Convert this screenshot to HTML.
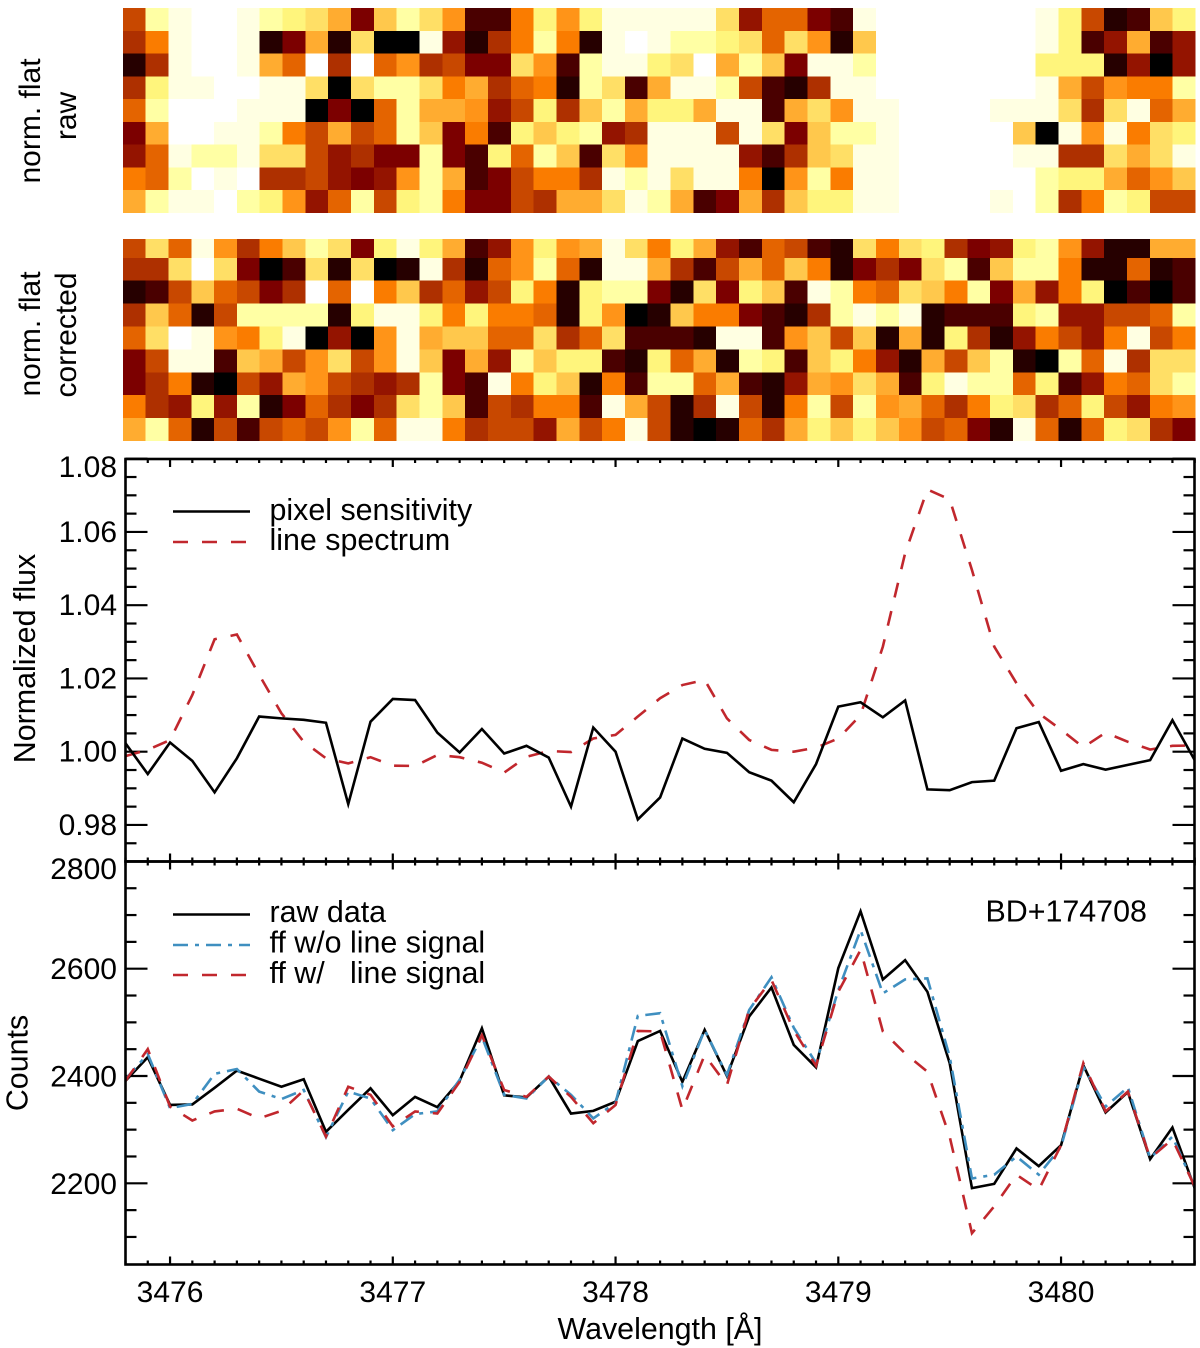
<!DOCTYPE html>
<html lang="en">
<head>
<meta charset="utf-8">
<title>Flat-field and spectrum comparison</title>
<style>
html,body{margin:0;padding:0;background:#fff;}
svg{display:block;}
text{font-family:"Liberation Sans",Arial,sans-serif;font-size:30px;fill:#000;white-space:pre;}
text.big{font-size:30.4px;}
</style>
</head>
<body>
<svg id="figure" xmlns="http://www.w3.org/2000/svg" width="1200" height="1348" viewBox="0 0 1200 1348">
<defs>
<clipPath id="clip-flux"><rect x="125.5" y="459" width="1069" height="402.5"/></clipPath>
<clipPath id="clip-counts"><rect x="125.5" y="861.5" width="1069" height="403"/></clipPath>
<clipPath id="clip-raw"><rect x="122.8" y="8" width="1072.7" height="205"/></clipPath>
<clipPath id="clip-cor"><rect x="122.8" y="239" width="1072.7" height="202"/></clipPath>
</defs>
<g id="heat-raw" clip-path="url(#clip-raw)" shape-rendering="crispEdges"></g>
<g id="heat-cor" clip-path="url(#clip-cor)" shape-rendering="crispEdges"></g>
<text transform="translate(40,121) rotate(-90)" text-anchor="middle">norm. flat</text>
<text transform="translate(76,116) rotate(-90)" text-anchor="middle">raw</text>
<text transform="translate(40,334) rotate(-90)" text-anchor="middle">norm. flat</text>
<text transform="translate(76,335) rotate(-90)" text-anchor="middle">corrected</text>

<g id="ticks" stroke="#000" stroke-width="2.2"></g>
<g id="labels"></g>
<g id="lines-flux" clip-path="url(#clip-flux)" fill="none" stroke-width="2.6" stroke-linejoin="miter"></g>
<g id="lines-counts" clip-path="url(#clip-counts)" fill="none" stroke-width="2.6" stroke-linejoin="miter"></g>
<rect x="125.5" y="459" width="1069" height="402.5" fill="none" stroke="#000" stroke-width="2.6"/>
<rect x="125.5" y="861.5" width="1069" height="403" fill="none" stroke="#000" stroke-width="2.6"/>

<text class="big" transform="translate(35,658.5) rotate(-90)" text-anchor="middle">Normalized flux</text>
<text class="big" transform="translate(27.5,1063) rotate(-90)" text-anchor="middle">Counts</text>
<text class="big" x="660" y="1339" text-anchor="middle">Wavelength [Å]</text>

<g>
<line x1="173" x2="250" y1="511.5" y2="511.5" stroke="#000" stroke-width="2.6"/>
<line x1="173" x2="250" y1="542" y2="542" stroke="#c1272d" stroke-width="2.6" stroke-dasharray="15 14"/>
<text class="big" x="269.5" y="520">pixel sensitivity</text>
<text class="big" x="269.5" y="550">line spectrum</text>
</g>
<g>
<line x1="173" x2="250" y1="914.5" y2="914.5" stroke="#000" stroke-width="2.6"/>
<line x1="173" x2="250" y1="945" y2="945" stroke="#3f8fc0" stroke-width="2.6" stroke-dasharray="15 7 4 7"/>
<line x1="173" x2="250" y1="975" y2="975" stroke="#c1272d" stroke-width="2.6" stroke-dasharray="15 14"/>
<text class="big" x="269.5" y="922">raw data</text>
<text class="big" x="269.5" y="952.5">ff w/o line signal</text>
<text class="big" x="269.5" y="983" xml:space="preserve">ff w/   line signal</text>
<text class="big" x="985.5" y="921.5">BD+174708</text>
</g>
</svg>
<script>
var wavelengths = [3475.8,3475.9,
3476.0,3476.1,3476.2,3476.3,3476.4,3476.5,3476.6,3476.7,3476.8,3476.9,
3477.0,3477.1,3477.2,3477.3,3477.4,3477.5,3477.6,3477.7,3477.8,3477.9,
3478.0,3478.1,3478.2,3478.3,3478.4,3478.5,3478.6,3478.7,3478.8,3478.9,
3479.0,3479.1,3479.2,3479.3,3479.4,3479.5,3479.6,3479.7,3479.8,3479.9,
3480.0,3480.1,3480.2,3480.3,3480.4,3480.5,3480.6];
var pixelSensitivity = [1.0023,0.9939,
1.0025,0.9975,0.9889,0.9982,1.0096,1.0091,1.0087,1.0079,0.9857,1.0082,
1.0144,1.0141,1.0052,0.9998,1.0062,0.9995,1.0016,0.9984,0.9850,1.0066,
1.0000,0.9815,0.9875,1.0036,1.0008,0.9997,0.9944,0.9921,0.9862,0.9966,
1.0123,1.0135,1.0094,1.0140,0.9897,0.9895,0.9917,0.9921,1.0064,1.0081,
0.9948,0.9966,0.9951,0.9964,0.9977,1.0086,0.9977];
var lineSpectrum = [0.9988,1.0005,
1.0032,1.0155,1.0307,1.0320,1.0210,1.0105,1.0027,0.9982,0.9968,0.9985,
0.9962,0.9961,0.9991,0.9985,0.9970,0.9943,0.9986,1.0002,0.9999,1.0036,
1.0046,1.0096,1.0146,1.0182,1.0196,1.0091,1.0032,1.0005,1.0000,1.0011,
1.0036,1.0100,1.0287,1.0542,1.0716,1.0689,1.0496,1.0287,1.0187,1.0105,
1.0060,1.0012,1.0052,1.0027,1.0006,1.0016,1.0017];
var rawCounts = [2391,2435,
2346,2347,2378,2410,2395,2380,2394,2296,2337,2377,
2327,2361,2342,2391,2489,2364,2360,2399,2330,2335,
2352,2465,2484,2389,2486,2400,2511,2565,2458,2416,
2601,2707,2580,2616,2557,2424,2191,2199,2265,2232,
2271,2420,2332,2370,2245,2304,2191];
var ffWithoutLine = [2394,2441,
2340,2348,2404,2413,2371,2357,2374,2286,2371,2358,
2299,2329,2334,2393,2473,2365,2358,2399,2365,2321,
2350,2512,2517,2381,2486,2402,2523,2584,2490,2424,
2560,2672,2554,2580,2582,2436,2209,2216,2250,2216,
2268,2417,2343,2379,2247,2287,2194];
var ffWithLine = [2391,2450,
2343,2317,2334,2339,2321,2335,2373,2287,2380,2365,
2306,2334,2330,2389,2476,2374,2361,2399,2361,2312,
2346,2484,2483,2337,2439,2383,2524,2579,2485,2419,
2557,2635,2483,2442,2408,2287,2107,2157,2216,2188,
2271,2424,2334,2371,2247,2282,2194];
var waveTickLabels = [3476,3477,3478,3479,3480];
var fluxTickLabels = ["0.98","1.00","1.02","1.04","1.06","1.08"];
var countTickLabels = ["2200","2400","2600","2800"];
var heatRaw = [
[6,14,15,16,16,15,14,13,12,10,3,11,14,12,9,2,2,8,13,9,13,15,15,15,15,15,12,4,7,7,3,2,15,16,16,16,16,16,16,16,15,13,6,1,2,11,13],
[5,8,15,16,16,15,1,3,10,1,12,0,0,15,4,1,5,8,14,8,1,15,16,15,14,14,13,12,7,12,9,1,11,16,16,16,16,16,16,16,15,13,2,4,10,2,4],
[1,5,15,16,16,15,10,7,16,5,16,7,9,5,6,3,3,12,9,2,14,15,15,13,12,16,10,14,11,3,15,15,14,16,16,16,16,16,16,16,13,13,13,1,4,0,4],
[5,13,15,15,16,16,15,15,12,0,12,14,14,12,8,10,5,7,8,1,14,12,2,10,15,15,14,6,2,1,5,15,15,16,16,16,16,16,16,16,15,10,6,9,8,8,14],
[7,14,16,16,16,15,15,15,0,3,0,7,14,10,10,9,4,6,13,5,11,14,10,13,13,10,15,15,2,10,12,9,15,15,16,16,16,16,15,15,15,12,5,12,15,7,10],
[3,10,16,16,15,15,14,8,6,10,6,7,14,11,3,8,2,13,11,13,14,4,5,15,15,15,6,15,12,3,11,14,14,15,16,16,16,16,16,11,0,15,9,15,8,12,13],
[4,7,15,14,14,15,12,12,6,4,5,3,3,14,3,2,13,7,14,11,2,12,9,15,15,15,15,4,2,5,11,12,15,15,16,16,16,16,16,15,15,5,5,12,10,12,15],
[8,7,14,16,15,16,5,5,6,4,3,4,9,14,10,2,3,6,8,8,5,15,14,15,12,15,15,8,0,9,14,8,15,15,16,16,16,16,16,16,14,13,13,10,7,9,11],
[10,14,15,15,16,14,13,9,4,7,14,6,13,14,8,3,3,6,5,10,10,12,15,14,10,2,3,10,5,11,13,13,15,15,16,16,16,16,15,16,14,5,8,14,13,6,6]
];
var heatCorrected = [
[6,12,7,15,9,5,8,11,14,12,3,13,15,13,10,2,4,9,13,9,10,15,12,8,13,10,4,2,7,6,2,1,12,8,12,13,5,3,4,13,14,9,4,1,1,10,10],
[5,5,12,16,12,3,0,2,12,1,12,0,1,15,5,1,7,9,14,7,1,15,15,10,5,2,6,10,7,11,8,1,3,5,3,12,14,2,11,14,14,8,1,1,7,1,2],
[1,2,6,11,7,6,3,5,16,7,16,8,11,5,7,4,6,13,8,1,13,14,14,3,1,12,3,13,11,2,15,14,8,7,12,11,8,14,3,10,4,8,13,0,2,0,2],
[5,11,7,1,6,14,14,14,14,1,13,15,15,13,8,13,8,8,7,1,13,9,0,1,11,8,8,3,2,1,5,14,15,14,15,1,2,2,2,13,14,4,4,6,6,7,14],
[7,12,16,15,9,8,13,15,0,4,0,9,15,10,11,11,7,7,12,5,7,12,2,2,2,1,15,15,2,9,11,6,11,1,10,1,13,5,1,4,8,6,4,8,15,6,8],
[3,6,15,15,2,11,10,6,9,12,6,9,15,11,3,10,4,14,11,13,13,2,1,13,7,10,1,14,13,2,11,13,8,4,1,10,6,11,14,1,0,14,7,15,5,12,12],
[3,5,8,1,0,6,4,10,9,6,5,4,5,14,3,2,15,8,13,11,1,8,2,14,14,7,10,2,1,4,10,9,12,10,2,13,15,14,14,7,13,2,4,8,7,12,14],
[8,5,4,13,4,14,1,3,7,5,3,5,12,14,11,2,6,5,8,8,2,15,10,6,1,5,15,6,1,8,14,6,14,9,10,7,5,8,13,12,5,7,13,6,4,8,9],
[10,14,7,1,6,2,6,7,6,9,14,7,15,15,8,5,6,6,4,10,6,8,15,6,1,0,1,7,5,10,13,11,13,11,9,6,7,3,1,15,7,1,7,13,12,5,3]
];
var heatPalette = ["#000000","#260000","#4a0000","#7c0000","#941400","#ae3000","#c84800","#e46400","#fa7c00","#ff9418","#ffac30","#ffc84c","#ffdf66","#fff57c","#ffffa4","#ffffe2","#ffffff"];

var NS = "http://www.w3.org/2000/svg";
var X0 = 125.5, XPX = 222.75, XMIN = 3475.8;
function xScale(w){ return X0 + (w - XMIN) * XPX; }
function yFlux(v){ return 751.7 - (v - 1.0) / 0.02 * 73.25; }
function yCounts(v){ return 1076 - (v - 2400) / 200 * 107.3; }
function make(tag, parent, attrs){
  var el = document.createElementNS(NS, tag);
  for (var k in attrs) el.setAttribute(k, attrs[k]);
  parent.appendChild(el);
  return el;
}

function drawHeat(groupId, grid, left, cellW, bottom, cellH, cellName){
  var g = document.getElementById(groupId);
  for (var r = 0; r < grid.length; r++){
    for (var c = 0; c < grid[r].length; c++){
      var cell = make("rect", g, {
        x: left + c * cellW,
        y: bottom - (grid.length - r) * cellH,
        width: cellW + 0.4,
        height: cellH + 0.4,
        fill: heatPalette[grid[r][c]]
      });
      
      
    }
  }
}
drawHeat("heat-raw", heatRaw, 122.8, 1072.7 / 47, 213, 205 / 9, "heatmap-raw-cell");
drawHeat("heat-cor", heatCorrected, 122.8, 1072.7 / 47, 441, 22.9, "heatmap-corrected-cell");

function drawSeries(groupId, ys, yFn, color, dash, name){
  var g = document.getElementById(groupId);
  var pts = [];
  for (var i = 0; i < ys.length; i++) pts.push(xScale(wavelengths[i]).toFixed(2) + "," + yFn(ys[i]).toFixed(2));
  var line = make("polyline", g, { points: pts.join(" "), stroke: color });
  if (dash) line.setAttribute("stroke-dasharray", dash);
  
  
}
drawSeries("lines-flux", lineSpectrum, yFlux, "#c1272d", "15 14", "line-spectrum-series");
drawSeries("lines-flux", pixelSensitivity, yFlux, "#000000", null, "pixel-sensitivity-series");
drawSeries("lines-counts", rawCounts, yCounts, "#000000", null, "raw-data-series");
drawSeries("lines-counts", ffWithoutLine, yCounts, "#3f8fc0", "15 7 4 7", "ff-without-line-series");
drawSeries("lines-counts", ffWithLine, yCounts, "#c1272d", "15 14", "ff-with-line-series");

var tickGroup = document.getElementById("ticks");
function tick(x1, y1, x2, y2, name){
  var t = make("line", tickGroup, { x1: x1, y1: y1, x2: x2, y2: y2 });
  
  
}
var PANELS = [
  { top: 459, bottom: 861.5 },
  { top: 861.5, bottom: 1264.5 }
];
var XRIGHT = 1194.5;
for (var p = 0; p < PANELS.length; p++){
  for (var i = 0; i < wavelengths.length; i++){
    var isMajor = waveTickLabels.indexOf(wavelengths[i]) >= 0;
    var len = isMajor ? 8 : 4;
    var xp = xScale(wavelengths[i]);
    tick(xp, PANELS[p].top, xp, PANELS[p].top + len, "x-tick-top");
    tick(xp, PANELS[p].bottom, xp, PANELS[p].bottom - len, "x-tick-bottom");
  }
}
function yTicks(minV, maxV, step, majorEvery, yFn, name){
  var n = Math.round((maxV - minV) / step);
  for (var i = 0; i <= n; i++){
    var v = minV + i * step;
    var major = (i % majorEvery) === 0;
    var len = major ? 22 : 11;
    var yp = yFn(v);
    tick(X0, yp, X0 + len, yp, name);
    tick(XRIGHT, yp, XRIGHT - len, yp, name);
  }
}
yTicks(0.98, 1.08, 0.005, 4, yFlux, "flux-y-tick");
tick(X0, yFlux(0.975), X0 + 11, yFlux(0.975), "flux-y-tick");
tick(XRIGHT, yFlux(0.975), XRIGHT - 11, yFlux(0.975), "flux-y-tick");
yTicks(2200, 2800, 50, 4, yCounts, "counts-y-tick");
tick(X0, yCounts(2150), X0 + 11, yCounts(2150), "counts-y-tick");
tick(X0, yCounts(2100), X0 + 11, yCounts(2100), "counts-y-tick");
tick(XRIGHT, yCounts(2150), XRIGHT - 11, yCounts(2150), "counts-y-tick");
tick(XRIGHT, yCounts(2100), XRIGHT - 11, yCounts(2100), "counts-y-tick");

var labelGroup = document.getElementById("labels");
function label(x, y, str, anchor, name){
  var t = make("text", labelGroup, { x: x, y: y, "text-anchor": anchor });
  t.textContent = str;
  
  
}
for (var i = 0; i < fluxTickLabels.length; i++){
  var fy = yFlux(parseFloat(fluxTickLabels[i]));
  label(117, Math.max(fy + 10, 477), fluxTickLabels[i], "end", "flux-y-tick-label");
}
for (var i = 0; i < countTickLabels.length; i++){
  var cy = yCounts(parseFloat(countTickLabels[i]));
  label(117, Math.max(cy + 10.5, 879), countTickLabels[i], "end", "counts-y-tick-label");
}
for (var i = 0; i < waveTickLabels.length; i++){
  label(xScale(waveTickLabels[i]), 1302, String(waveTickLabels[i]), "middle", "x-tick-label");
}
</script>
</body>
</html>
